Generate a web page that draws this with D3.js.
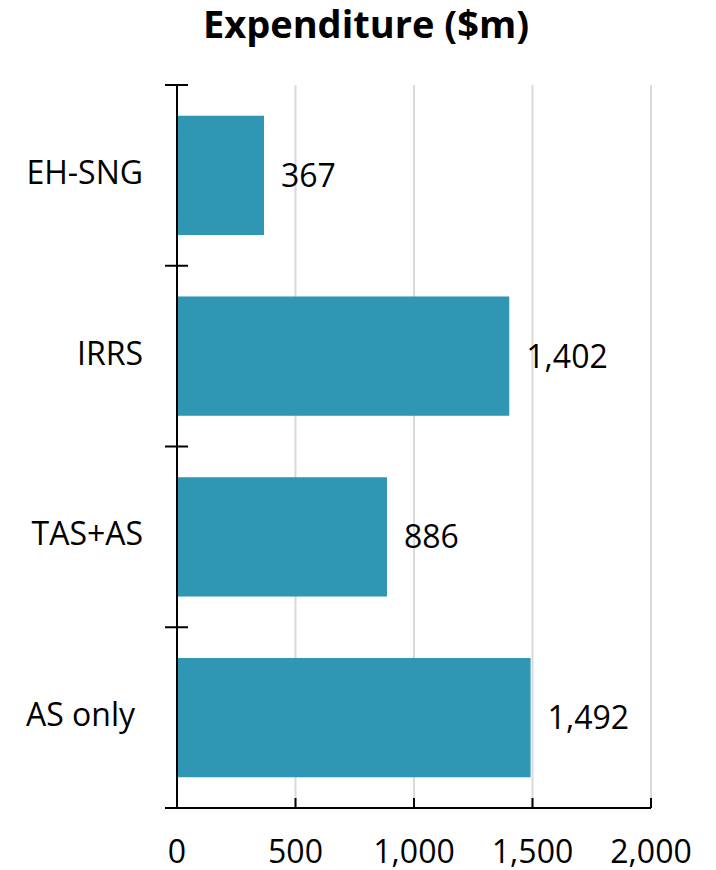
<!DOCTYPE html>
<html>
<head>
<meta charset="utf-8">
<script src="https://cdn.jsdelivr.net/npm/d3@7"></script>
<style>
  body { margin: 0; background: #fff; }
  text { font-family: "Open Sans", "Noto Sans", sans-serif; fill: #000; }
</style>
</head>
<body>
<div id="chart"></div>
<script>
// data
const categories = ["EH-SNG", "IRRS", "TAS+AS", "AS only"]
const values = [367, 1402, 886, 1492]
const xTicks = [0, 500, 1000, 1500, 2000]
const title = "Expenditure ($m)"

const W = 716, H = 870
const margin = {top: 85, right: 65, bottom: 62, left: 177}

const svg = d3.select('#chart').append('svg')
    .attr('width', W)
    .attr('height', H)

const x = d3.scaleLinear()
    .domain([0, 2000])
    .range([margin.left, W - margin.right])

const y = d3.scaleBand()
    .domain(categories)
    .range([margin.top, H - margin.bottom])
    .paddingInner(0.34)
    .paddingOuter(0.17)

// gridlines
svg.append('g')
    .selectAll('line')
    .data(xTicks.slice(1))
    .join('line')
    .attr('x1', d => x(d))
    .attr('x2', d => x(d))
    .attr('y1', margin.top)
    .attr('y2', H - margin.bottom)
    .attr('stroke', '#d9d9d9')
    .attr('stroke-width', 2)

// bars
svg.append('g')
    .selectAll('rect')
    .data(values)
    .join('rect')
    .attr('x', x(0))
    .attr('y', (d, i) => y(categories[i]))
    .attr('width', d => x(d) - x(0))
    .attr('height', y.bandwidth())
    .attr('fill', '#2f97b3')

// value labels
svg.append('g')
    .selectAll('text')
    .data(values)
    .join('text')
    .attr('x', d => x(d) + 17)
    .attr('y', (d, i) => y(categories[i]) + y.bandwidth() / 2 + 3)
    .attr('dominant-baseline', 'middle')
    .style('font-size', '32px')
    .text(d => d3.format(',')(d))

// y axis: line + ticks at band boundaries
const step = y.step()
const bounds = d3.range(categories.length + 1).map(i => margin.top + i * step)
const yAxis = svg.append('g')
yAxis.append('line')
    .attr('x1', x(0)).attr('x2', x(0))
    .attr('y1', margin.top).attr('y2', H - margin.bottom)
    .attr('stroke', '#000').attr('stroke-width', 2)
yAxis.selectAll('line.tick')
    .data(bounds.slice(0, -1))
    .join('line')
    .attr('class', 'tick')
    .attr('x1', x(0) - 12).attr('x2', x(0) + 11)
    .attr('y1', d => d).attr('y2', d => d)
    .attr('stroke', '#000').attr('stroke-width', 2)
yAxis.selectAll('text')
    .data(categories)
    .join('text')
    .attr('x', d => d === 'AS only' ? 135 : 143)
    .attr('y', d => y(d) + y.bandwidth() / 2)
    .attr('text-anchor', 'end')
    .attr('dominant-baseline', 'middle')
    .style('font-size', '32px')
    .text(d => d)

// x axis
const xAxis = svg.append('g')
xAxis.append('line')
    .attr('x1', x(0) - 12).attr('x2', x(2000))
    .attr('y1', H - margin.bottom).attr('y2', H - margin.bottom)
    .attr('stroke', '#000').attr('stroke-width', 2)
xAxis.selectAll('line.tick')
    .data(xTicks)
    .join('line')
    .attr('class', 'tick')
    .attr('x1', d => x(d)).attr('x2', d => x(d))
    .attr('y1', H - margin.bottom).attr('y2', H - margin.bottom - 10)
    .attr('stroke', '#000').attr('stroke-width', 2)
xAxis.selectAll('text')
    .data(xTicks)
    .join('text')
    .attr('x', d => x(d))
    .attr('y', 854)
    .attr('text-anchor', 'middle')
    .attr('dominant-baseline', 'middle')
    .style('font-size', '32px')
    .text(d => d3.format(',')(d))

// title
svg.append('text')
    .attr('x', 366)
    .attr('y', 28)
    .attr('text-anchor', 'middle')
    .attr('dominant-baseline', 'middle')
    .style('font-size', '38px')
    .style('font-weight', 'bold')
    .text(title)
</script>
</body>
</html>
